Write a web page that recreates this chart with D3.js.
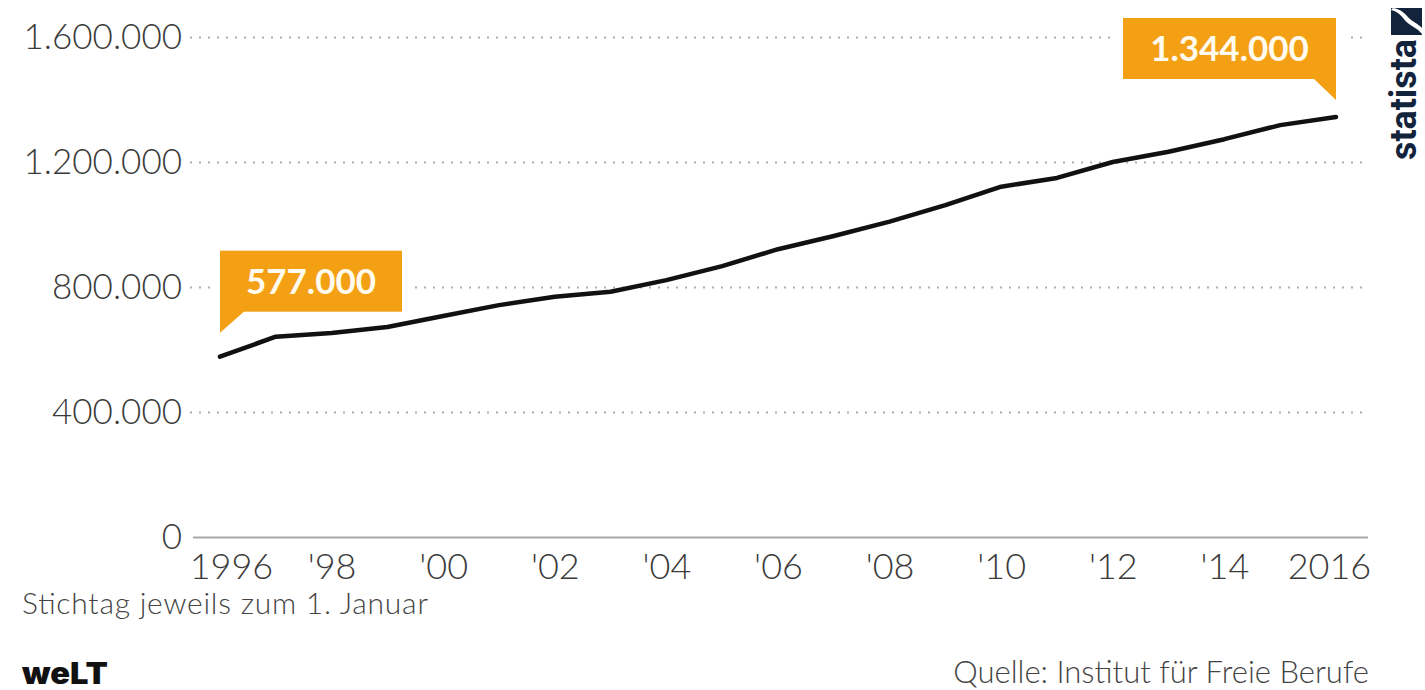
<!DOCTYPE html>
<html><head><meta charset="utf-8">
<script src="https://cdn.jsdelivr.net/npm/d3@7/dist/d3.min.js"></script>
<style>
html,body{margin:0;padding:0;background:#fff;}
svg{display:block;}
</style></head>
<body>
<svg id="chart" width="1425" height="690"></svg>
<script>
const years = [1996,1997,1998,1999,2000,2001,2002,2003,2004,2005,2006,2007,2008,2009,2010,2011,2012,2013,2014,2015,2016];
const values = [577000,641000,653000,672000,707000,742000,769000,785000,822000,867000,921000,963000,1009000,1062000,1121000,1149000,1200000,1233000,1273000,1318000,1344000];
const yTicks = [0,400000,800000,1200000,1600000];
const xTicks = [1996,1998,2000,2002,2004,2006,2008,2010,2012,2014,2016];
const xTickLabels = ["1996","'98","'00","'02","'04","'06","'08","'10","'12","'14","2016"];
const callouts = [
  {year:1996, value:577000, label:"577.000", side:"left"},
  {year:2016, value:1344000, label:"1.344.000", side:"right"}
];
const note = "Stichtag jeweils zum 1. Januar";
const source = "Quelle: Institut für Freie Berufe";
const brand = "weLT";

const svg = d3.select("#chart");
const W = 1425, H = 690;
svg.append("rect").attr("width",W).attr("height",H).attr("fill","#fff");

const x = d3.scaleLinear().domain([1996,2016]).range([220,1336]);
const y = d3.scaleLinear().domain([0,1600000]).range([537,37]);
const gridX0 = 190, gridX1 = 1368;
const loc = d3.formatLocale({decimal:",", thousands:".", grouping:[3], currency:["","€"]});
const fmt = loc.format(",d");
const font = "Lato, 'Open Sans', sans-serif";

// gridlines (dotted)
const gy = svg.append("g")
  .attr("transform",`translate(${gridX0},0)`)
  .call(d3.axisLeft(y).tickValues(yTicks).tickSize(-(gridX1-gridX0)).tickFormat(fmt).tickPadding(8));
gy.select(".domain").remove();
gy.selectAll(".tick line")
  .attr("stroke","#9a9a9a").attr("stroke-width",2)
  .attr("stroke-dasharray", d => d===0 ? null : "2,7")
  .attr("stroke-opacity", d => d===0 ? 0.9 : 0.8);
gy.selectAll(".tick line").filter(d=>d===0).attr("x1",3).attr("stroke","#a0a0a0");
gy.selectAll(".tick text")
  .attr("font-family",font).attr("font-weight",300).attr("font-size",35)
  .attr("fill","#3a3a3a").attr("dy","0.34em");

// x axis labels
const gx = svg.append("g")
  .attr("transform",`translate(0,537)`)
  .call(d3.axisBottom(x).tickValues(xTicks).tickSize(0).tickPadding(0)
    .tickFormat((d,i)=>xTickLabels[i]));
gx.select(".domain").remove();
gx.selectAll(".tick text")
  .attr("font-family",font).attr("font-weight",300).attr("font-size",36)
  .attr("fill","#3a3a3a").attr("dy","1.18em")
  .attr("dx",(d,i)=> i===0 ? 11 : (i===xTicks.length-1 ? -7 : 0));

// callouts
const orange = "#f4a015";
callouts.forEach(c=>{
  const px = x(c.year), py = y(c.value);
  const g = svg.append("g");
  const bw = c.side==="left" ? 182 : 213, bh = 61;
  const tipY = py - (c.side==="left" ? 24 : 17);
  const boxBottom = tipY - 21;
  const bx = c.side==="left" ? px : px - bw;
  const by = boxBottom - bh;
  g.append("rect").attr("x",bx-9).attr("y",by-6).attr("width",bw+18).attr("height",bh+12).attr("fill","#fff");
  g.append("rect").attr("x",bx).attr("y",by).attr("width",bw).attr("height",bh).attr("fill",orange);
  const tri = c.side==="left"
    ? [[px,boxBottom-1],[px,tipY],[px+25,boxBottom-1]]
    : [[px,boxBottom-1],[px,tipY],[px-23,boxBottom-1]];
  g.append("path").attr("d",d3.line()(tri)+"Z").attr("fill",orange);
  g.append("text").attr("x",bx+bw/2).attr("y",by+bh/2).attr("dy","0.36em")
    .attr("text-anchor","middle").attr("font-family",font).attr("font-weight",700)
    .attr("font-size",35).attr("fill","#fffbee").text(c.label);
});

// line
svg.append("path")
  .datum(years.map((yr,i)=>[yr,values[i]]))
  .attr("fill","none").attr("stroke","#111").attr("stroke-width",4.5)
  .attr("stroke-linejoin","round").attr("stroke-linecap","round")
  .attr("d", d3.line().x(d=>x(d[0])).y(d=>y(d[1])));

// footer texts
svg.append("text").attr("x",22).attr("y",614).attr("font-family",font).attr("font-weight",300)
  .attr("font-size",30).attr("textLength",406).attr("lengthAdjust","spacing")
  .attr("fill","#444").text(note);
svg.append("text").attr("x",1369).attr("y",683).attr("text-anchor","end").attr("font-family",font)
  .attr("font-weight",300).attr("font-size",31).attr("fill","#444").text(source);
svg.append("text").attr("x",22).attr("y",684).attr("font-family","Inter, 'Open Sans', sans-serif")
  .attr("font-weight",900).attr("font-size",30).attr("textLength",86).attr("lengthAdjust","spacingAndGlyphs")
  .attr("fill","#111").text(brand);

// statista logo
const navy = "#14233c";
const lg = svg.append("g");
lg.append("rect").attr("x",1391).attr("y",8).attr("width",31).attr("height",27).attr("fill",navy);
lg.append("path").attr("d","M1391,10 C1401,12 1403,20 1409,24 C1413,27 1417,28 1422,34 L1422,28 C1417,23 1413,22 1410,19 C1405,14 1401,9 1393,8 Z").attr("fill","#fff");
lg.append("text").attr("transform","translate(1416,160) rotate(-90)")
  .attr("font-family","Roboto, 'Open Sans', sans-serif").attr("font-weight",700)
  .attr("font-size",37).attr("textLength",121).attr("lengthAdjust","spacingAndGlyphs")
  .attr("fill",navy).text("statista");
</script>
</body></html>
